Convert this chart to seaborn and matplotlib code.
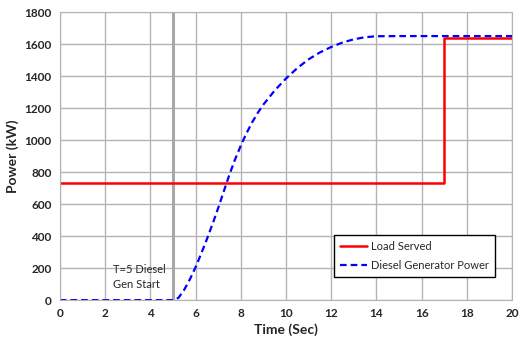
import pandas as pd
import matplotlib
matplotlib.use("Agg")
import matplotlib.pyplot as plt
import seaborn as sns

# zeitachse und werte
t_load = [0, 17, 17, 20]
p_load = [735, 735, 1640, 1640]

t_gen = [0, 5, 5.25, 5.5, 5.75, 6, 6.25, 6.5, 6.75, 7, 7.25, 7.5, 7.75, 8,
         8.25, 8.5, 8.75, 9, 9.5, 10, 10.5, 11, 11.5, 12, 12.5, 13, 13.5, 14, 15, 20]
p_gen = [0, 0, 15, 65, 130, 205, 290, 380, 475, 575, 680, 785, 880, 965,
         1042, 1110, 1170, 1222, 1310, 1385, 1450, 1505, 1548, 1582, 1610, 1630, 1643, 1649, 1650, 1650]

x_ticks = [0, 2, 4, 6, 8, 10, 12, 14, 16, 18, 20]
y_ticks = [0, 200, 400, 600, 800, 1000, 1200, 1400, 1600, 1800]

sns.set_style("white")
plt.rcParams["font.family"] = ["Lato", "DejaVu Sans"]

df_load = pd.DataFrame({"t": t_load, "p": p_load})
df_gen = pd.DataFrame({"t": t_gen, "p": p_gen})

fig = plt.figure(figsize=(5.2, 3.45), dpi=100)
ax = fig.add_axes([0.115, 0.13, 0.87, 0.835])

# gitter
ax.grid(True, color="#b4b4b4", lw=1)
ax.set_axisbelow(True)

# startlinie diesel
ax.axvline(5, color="#a8a8a8", lw=2.2, zorder=1)

sns.lineplot(data=df_load, x="t", y="p", color="red", lw=1.8, ax=ax,
             label="Load Served", estimator=None, sort=False)
sns.lineplot(data=df_gen, x="t", y="p", color="blue", lw=1.6, ax=ax,
             label="Diesel Generator Power", estimator=None, sort=False,
             linestyle=(0, (3, 1.8)))

ax.set_xlim(0, 20)
ax.set_ylim(0, 1800)
ax.set_xticks(x_ticks)
ax.set_yticks(y_ticks)
ax.tick_params(length=0, labelsize=8.5, pad=6)
for lab in ax.get_xticklabels() + ax.get_yticklabels():
    lab.set_fontweight("bold")

for s in ax.spines.values():
    s.set_color("#b4b4b4")

ax.set_xlabel("Time (Sec)", fontsize=10, fontweight="bold", labelpad=3)
ax.set_ylabel("Power (kW)", fontsize=10, fontweight="bold", labelpad=4)

ax.text(2.35, 228, "T=5 Diesel\nGen Start", fontsize=8, va="top",
        linespacing=1.45)

leg = ax.legend(loc="lower right", bbox_to_anchor=(0.975, 0.06), fontsize=8,
                fancybox=False, framealpha=1, handlelength=2.4,
                handletextpad=0.4, borderpad=0.55, labelspacing=0.75)
leg.get_frame().set_edgecolor("black")
leg.get_frame().set_linewidth(1)

plt.savefig("out.png", dpi=100)
